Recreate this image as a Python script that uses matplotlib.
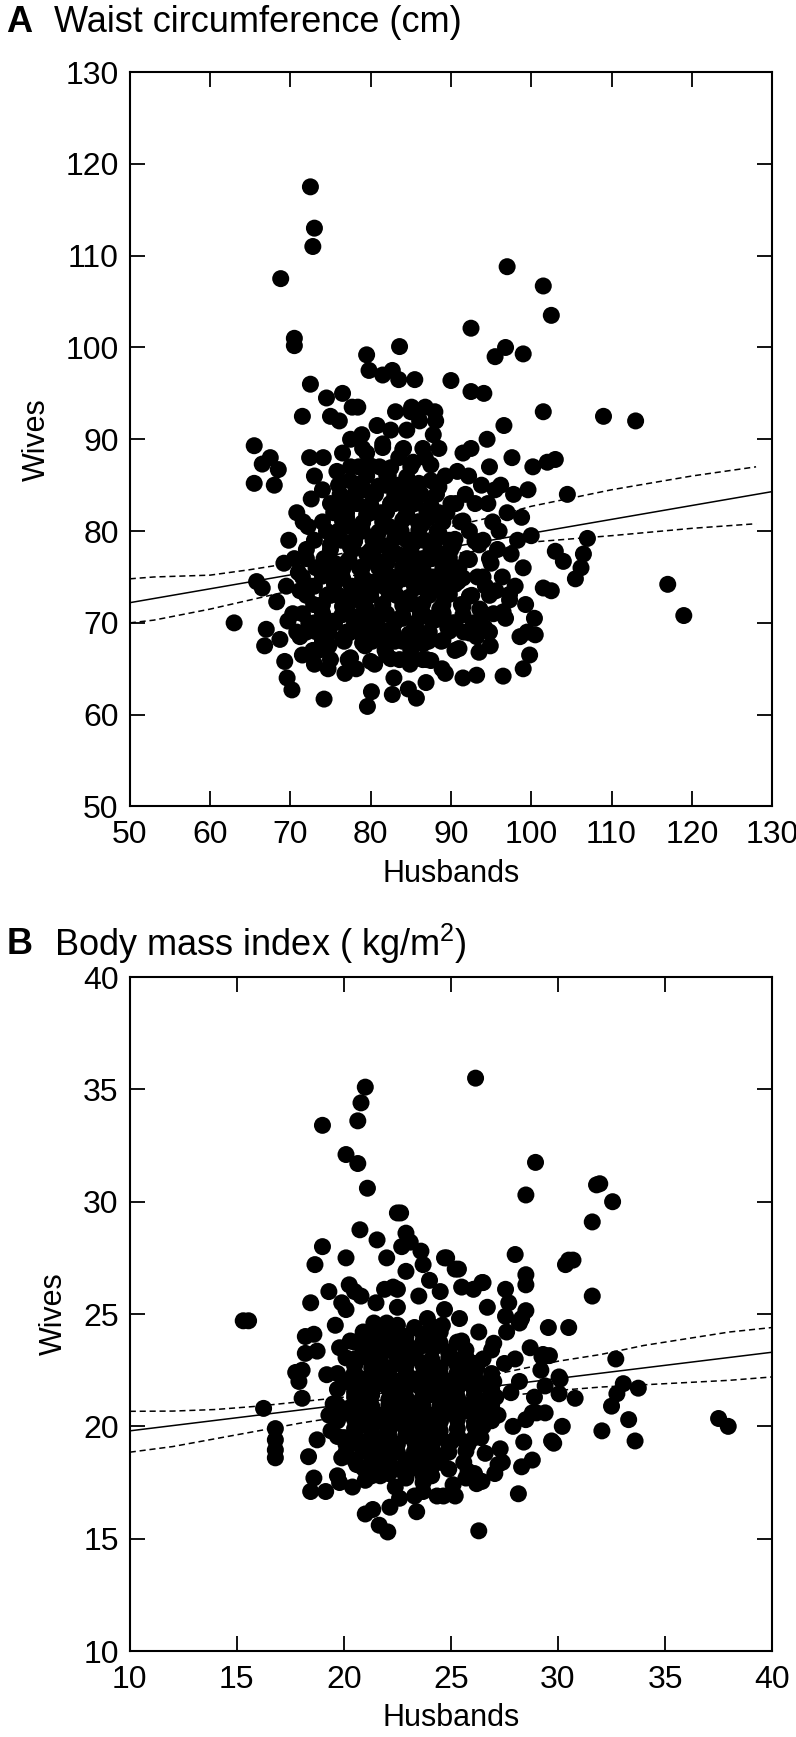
import numpy as np
import matplotlib
matplotlib.use("Agg")
import matplotlib.pyplot as plt

plt.rcParams['font.family'] = ['Liberation Sans', 'DejaVu Sans']
plt.rcParams['mathtext.fontset'] = 'custom'
plt.rcParams['mathtext.rm'] = 'Liberation Sans'

# ---- panel A: waist circumference (cm), husbands vs wives ----
husb_a_out = [72.5, 73, 72.8, 68.8, 70.5, 70.5, 72.5, 71.5, 63, 97, 101.5, 102.5, 92.5, 109, 113, 117, 119,
              96.8, 99, 95.5, 90, 92.5, 101.5, 103, 102, 104.5, 103, 104, 106.5, 107, 105.5, 106.2, 101.5,
              102.5, 99.5, 100.5, 99, 96.5,
              65.5, 65.5, 66.5, 67.5, 68.5, 68, 65.8, 66.5, 67, 66.8, 68.3, 68.7, 69.3, 69.6, 70.2, 74.2,
              79.6, 82.7, 85.7, 89.3, 91.5, 93.2,
              77.7, 79.5, 79.8, 81.5, 83.6, 83.5, 82.7, 85, 86.8, 74.5, 76.5, 88, 85.5]
wife_a_out = [117.5, 113, 111, 107.5, 101, 100.2, 96, 92.5, 70, 108.8, 106.7, 103.5, 102.1, 92.5, 92, 74.2, 70.8,
              100, 99.3, 99, 96.4, 95.2, 93, 87.8, 87.5, 84, 77.8, 76.7, 77.5, 79.2, 74.8, 76, 73.8,
              73.5, 69, 68.7, 65, 64.2,
              89.3, 85.2, 87.3, 88, 86.7, 85, 74.5, 73.8, 69.3, 67.5, 72.3, 68.2, 65.8, 64, 62.7, 61.7,
              60.9, 62.2, 61.8, 64.5, 64, 64.3,
              93.5, 99.2, 97.5, 97, 100.1, 96.5, 97.5, 93, 93.5, 94.5, 95, 93, 96.5]

husb_a_core = [69.2, 69.8, 70.3, 70.8, 69.5, 71.2, 70.5, 71, 69.7, 71.5, 71.2, 70.8, 71.6,
               72, 72.5, 72.3, 72.8, 72.6, 73, 72.4, 73.2, 72.9, 73, 72.2, 73.3,
               74, 74.5, 74.2, 74.6, 74.3, 74.8, 74.1, 75, 74.7, 75.2, 75.4, 75, 75.5, 75.8,
               76, 76.4, 76.2, 76.7, 76.9, 77, 77.3, 76.5, 77.5, 77.2, 76.8, 77.6, 77.8, 77.4, 76.1,
               78, 78.3, 78.6, 78.8, 79, 79.3, 78.5, 79.5, 78.2, 79.7, 79.2, 78.9, 79.8, 78.4, 79.5,
               80, 80.3, 80.6, 80.2, 80.9, 81, 81.3, 81.1, 80.5, 81.5, 80.8, 81.6, 81.8, 80.1, 81.4, 81.9,
               82, 82.3, 82.6, 82.2, 82.8, 83, 83.3, 83.2, 82.5, 83.5, 83.6, 83.8, 82.9, 83.1, 83.7, 82.4,
               84, 84.3, 84.6, 84.2, 84.8, 85, 85.3, 85.2, 84.5, 85.5, 85.6, 85.8, 84.9, 84.1, 85.1, 84.7, 85.9,
               86, 86.3, 86.6, 86.2, 86.8, 87, 87.3, 87.2, 86.5, 87.5, 87.6, 87.8, 86.9, 86.1, 87.4,
               88, 88.3, 88.6, 88.2, 88.8, 89, 89.3, 89.2, 88.5, 89.5, 89.6, 89.8, 88.9, 88.1,
               90, 90.3, 90.6, 90.2, 90.8, 91, 91.3, 91.2, 90.5, 91.5, 91.6, 91.8, 90.9,
               92, 92.3, 92.6, 92.2, 92.8, 93, 93.3, 93.2, 92.5, 93.5, 93.6, 93.8,
               94, 94.3, 94.6, 94.2, 94.8, 95, 95.3, 95.2, 94.5, 95.5, 95.6, 95.8, 94.9, 94.1,
               96, 96.4, 96.8, 96.2, 97, 97.3, 97.5, 97.8, 98, 98.3, 98.6, 97.6, 96.6, 98.8,
               99, 99.3, 99.6, 100, 100.4, 99.8, 100.2,
               75.5, 76.5, 77.5, 78.5, 79.5, 80.5, 81.5, 82.5, 83.5, 84.5, 85.5, 86.5, 87.5, 88.5, 89.5,
               76, 78, 80, 82, 84, 86, 88, 79, 83, 87, 77, 81, 85, 89, 75, 77.8, 80.7, 83.2, 85.7, 88.7,
               74.5, 82, 86, 79.6, 84.6]
wife_a_core = [76.5, 79, 71, 69, 74, 73.5, 77, 75.5, 70.2, 66.5, 68.5, 82, 81,
               78, 74, 70, 67, 83.5, 86, 88, 76, 72, 65.5, 80.5, 69,
               84.5, 80, 77, 73, 70.5, 67.5, 88, 92.5, 65, 75, 82, 78.5, 70, 86.5,
               73, 79, 84, 68, 76.5, 81.5, 71, 88.5, 90, 66, 64.5, 74, 78, 85.5, 92,
               70, 83, 76, 72.5, 80, 67.5, 87, 88.5, 65, 74.5, 84.5, 90.5, 69.5, 93.5, 77.5,
               73, 79, 84, 68, 70.5, 76, 82, 87, 65.5, 89.5, 91.5, 74, 67, 62.5, 78.5, 85,
               71, 80.5, 75, 86, 69, 83, 77.5, 73, 91, 88, 66, 80, 64, 93, 70.5, 78,
               76, 81.5, 72, 85, 68.5, 79, 87.5, 74.5, 91, 83, 70, 77, 65.5, 89, 93.5, 62.8, 81,
               75.5, 84, 79, 71, 88, 73.5, 81.5, 68, 66, 85.5, 77, 90.5, 63.5, 92, 70.5,
               75, 80, 71.5, 84, 68, 77.5, 86, 73, 89, 82, 69.5, 79, 65, 92,
               74, 78.5, 83, 70, 86.5, 76, 72, 81, 67, 88.5, 69, 84, 74.5,
               77, 80, 73, 86, 70, 83, 75, 68.5, 89, 78.5, 71.5, 85,
               79, 74, 83, 69.5, 87, 76.5, 71, 81, 90, 84.5, 73.5, 78, 67.5, 95,
               80, 75, 70.5, 85, 82, 72.5, 77.5, 84, 74, 79, 68.5, 88, 91.5, 81.5,
               76, 72, 84.5, 79.5, 70.5, 66.5, 87,
               76.5, 71, 80.5, 74, 71.5, 77, 72, 83, 75, 79, 72, 77, 75, 82, 75,
               82.5, 79, 82, 76.5, 70.5, 81, 78, 68.5, 68, 66, 69, 69.5, 67, 71, 73, 72.5, 74.5, 79.5, 75.5, 73.8,
               68.5, 66.5, 69, 82.5, 83.5]

# the solid black centre of the cloud (two staggered passes)
husb_a_fill = [74, 76.5, 79, 81.5, 84, 86.5, 89,
               73, 75.5, 78, 80.5, 83, 85.5, 88, 90.5,
               74, 76.5, 79, 81.5, 84, 86.5, 89, 91.5,
               73, 75.5, 78, 80.5, 83, 85.5, 88, 90.5,
               74, 76.5, 79, 81.5, 84, 86.5, 89,
               75, 77.5, 80, 82.5, 85, 87.5, 90,
               76, 78.5, 81, 83.5, 86, 88.5,
               77, 79.5, 82, 84.5, 87,
               78, 80.5, 83, 85.5,
               79.5, 82, 84.5]
wife_a_fill = [68, 68.3, 67.8, 68.2, 68, 67.7, 68.1,
               70, 70.2, 69.8, 70.1, 70, 69.9, 70.3, 70,
               72, 71.8, 72.2, 72, 71.9, 72.1, 72, 71.8,
               74, 74.2, 73.9, 74, 74.1, 73.8, 74, 74.2,
               76, 75.8, 76.1, 76, 76.2, 75.9, 76,
               78, 78.2, 77.9, 78, 78.1, 77.8, 78,
               80, 80.2, 79.9, 80, 80.1, 79.8,
               82, 81.8, 82.1, 82, 82.2,
               84, 84.1, 83.9, 84,
               86, 86.1, 85.9]
husb_a_fill2 = [75, 77.5, 80, 82.5, 85, 87.5,
                73.5, 91, 93.5,
                72, 74.8, 77.3, 79.8, 82.3, 84.8, 87.3, 89.8, 92.3, 94.8,
                71.5, 74, 76.5, 79, 81.5, 84, 86.5, 89, 91.5, 94, 96.5,
                72, 74.8, 77.3, 79.8, 82.3, 84.8, 87.3, 89.8, 92.3, 94.8, 97.3,
                71.5, 74, 76.5, 79, 81.5, 84, 86.5, 89, 91.5, 94,
                72, 74.8, 77.3, 79.8, 82.3, 84.8, 87.3, 89.8, 92.3, 94.8,
                73, 75.5, 78, 80.5, 83, 85.5, 88, 90.5, 93,
                74, 76.5, 79, 81.5, 84, 86.5, 89, 91.5,
                75, 77.5, 80, 82.5, 85, 87.5, 90,
                76, 78.5, 81, 83.5, 86, 88.5,
                77.5, 80, 82.5, 85, 87.5,
                79, 81.5, 84, 86.5]
wife_a_fill2 = [66, 66.2, 65.8, 66.1, 66, 65.9,
                67, 67.2, 66.8,
                69, 69.1, 68.9, 69, 69.2, 68.8, 69, 69.1, 68.9, 69,
                71, 71.1, 70.9, 71, 71.2, 70.8, 71, 71.1, 70.9, 71, 71.2,
                73, 73.1, 72.9, 73, 73.2, 72.8, 73, 73.1, 72.9, 73, 73.1,
                75, 75.1, 74.9, 75, 75.2, 74.8, 75, 75.1, 74.9, 75,
                77, 77.1, 76.9, 77, 77.2, 76.8, 77, 77.1, 76.9, 77,
                79, 79.1, 78.9, 79, 79.2, 78.8, 79, 79.1, 78.9,
                81, 81.1, 80.9, 81, 81.2, 80.8, 81, 81.1,
                83, 83.1, 82.9, 83, 83.2, 82.8, 83,
                85, 85.1, 84.9, 85, 85.2, 84.8,
                87, 87.1, 86.9, 87, 87.2,
                89, 89.1, 88.9, 89]

# regression line and 95% band, panel A
line_a_x = [50, 130]
line_a_y = [72.2, 84.3]
band_a_x = [50, 53, 60, 65, 70, 75, 80, 85, 90, 95, 100, 110, 120, 128]
band_a_hi = [74.8, 75.0, 75.2, 75.8, 76.5, 77.3, 78.2, 79.2, 80.5, 81.5, 82.7, 84.5, 86.0, 87.0]
band_a_lo = [70.0, 70.3, 71.5, 72.5, 73.5, 74.6, 75.6, 76.8, 77.5, 78.0, 78.8, 79.5, 80.3, 80.8]

# ---- panel B: body mass index (kg/m2) ----
husb_b_out = [21.0, 20.8, 20.65, 19.0, 20.1, 20.65, 21.1, 22.65, 22.5, 20.75, 21.55, 22.9, 23.1, 23.6, 23.7,
              22.7, 22.0, 22.9, 19.0, 18.65, 20.1, 24.7, 25.2, 19.3, 18.45, 19.9, 20.25, 20.8, 21.9, 22.5,
              15.3, 15.55, 16.25, 16.8, 16.8, 16.8, 16.8, 18.2, 18.6, 18.75, 18.2, 17.75, 18.05, 17.9, 18.05,
              18.35, 18.75, 18.6, 18.45, 19.15, 19.8, 20.4, 21.0, 21.35, 21.65, 22.05, 22.15, 23.4, 23.7,
              24.35, 25.1,
              26.15, 28.95, 28.5, 31.8, 31.95, 32.55, 31.6, 28.0, 30.5, 30.7, 30.35, 31.6, 28.5, 28.5, 27.55,
              26.45, 26.05, 25.35, 24.8, 28.5, 28.2, 27.55, 29.55, 30.5, 32.7, 29.25, 29.6, 30.05, 30.1,
              33.05, 33.75, 32.75, 32.5, 30.8, 30.05, 33.3, 32.05, 33.6, 37.5, 37.95, 30.2, 29.7, 29.8,
              29.4, 28.8, 28.3, 28.15, 26.3, 26.2, 26.45, 25.2, 24.65, 27.2, 27.05, 25.8]
wife_b_out = [35.1, 34.4, 33.6, 33.4, 32.1, 31.7, 30.6, 29.5, 29.5, 28.75, 28.3, 28.6, 28.2, 27.8, 27.2,
              28.0, 27.5, 26.9, 28.0, 27.2, 27.5, 27.5, 27.0, 26.0, 25.5, 25.5, 26.3, 25.8, 26.1, 26.1,
              24.7, 24.7, 20.8, 19.9, 19.4, 18.95, 18.6, 24.0, 24.1, 23.35, 23.25, 22.4, 22.5, 22.0, 21.25,
              18.65, 19.4, 17.7, 17.1, 17.1, 17.5, 17.3, 16.1, 16.3, 15.6, 15.3, 16.4, 16.2, 17.1,
              16.9, 17.4,
              35.5, 31.75, 30.3, 30.75, 30.8, 30.0, 29.1, 27.65, 27.4, 27.4, 27.2, 25.8, 26.75, 26.3, 26.1,
              26.4, 26.1, 27.0, 27.5, 25.15, 24.6, 24.9, 24.4, 24.4, 23.0, 23.1, 23.15, 22.2, 22.1,
              21.9, 21.7, 21.45, 20.9, 21.25, 21.45, 20.3, 19.8, 19.35, 20.35, 20.0, 20.0, 19.35, 19.25,
              20.6, 20.6, 18.2, 17.0, 15.35, 17.45, 17.55, 16.9, 16.9, 18.3, 17.9, 18.0]

husb_b_core = [19.2, 19.5, 19.8, 19.4, 19.9, 19.6, 19.3, 19.7, 20,
               20.2, 20.5, 20.3, 20.8, 20.6, 20.9, 20.4, 20.7, 20.1, 21, 20.5, 20.9,
               21.2, 21.5, 21.3, 21.8, 21.6, 21.9, 21.4, 21.7, 21.1, 22, 21.5, 21.8, 21.2,
               22.2, 22.5, 22.3, 22.8, 22.6, 22.9, 22.4, 22.7, 22.1, 23, 22.5, 22.9, 22.3, 22.6,
               23.2, 23.5, 23.3, 23.8, 23.6, 23.9, 23.4, 23.7, 23.1, 24, 23.5, 23.8, 23.3, 24,
               24.2, 24.5, 24.3, 24.8, 24.6, 24.9, 24.4, 24.7, 24.1, 25, 24.5, 24.8,
               25.2, 25.5, 25.3, 25.8, 25.6, 25.9, 25.4, 25.7, 25.1, 26, 25.5, 25.8,
               26.2, 26.5, 26.3, 26.8, 26.6, 26.9, 26.4, 26.7, 26.1, 27, 26.5,
               27.2, 27.5, 27.3, 27.8, 27.6, 27.9, 27.4, 28, 27.7, 27.1,
               28.2, 28.5, 28.7, 28.9, 28.4, 29.2, 29, 29.4, 28.3, 29.3, 28.8,
               20.5, 21.5, 22.5, 23.5, 24.5, 25.5, 22, 23, 24, 21, 22.8, 24.2, 25.3, 21.3, 23.7,
               26.3, 20.3, 22, 24.6, 23.2, 21.5, 25, 20, 26.2, 27]
wife_b_core = [22.3, 21, 23.5, 19.8, 18.6, 24.5, 20.5, 17.8, 22,
               20.8, 23, 19.2, 21.7, 18.3, 24.2, 22.2, 20, 25.2, 17.6, 26, 23.6,
               21.3, 19.5, 23.3, 20.4, 22.5, 18.5, 24.6, 17.8, 20, 21.8, 25.5, 23.8, 18.9,
               20.6, 22.8, 19.1, 21.5, 24, 18, 17.3, 20.1, 23.4, 22.2, 25.3, 19.6, 26.2, 16.8,
               21, 23.5, 19.8, 22, 18.4, 24.8, 20.6, 17.5, 23, 21.4, 25.8, 19, 16.9, 26.5,
               22.5, 20.2, 24, 21.2, 18.7, 23.3, 19.5, 25.2, 17.8, 22, 26, 20.6,
               21.5, 23.8, 19.5, 22.5, 18.4, 20.8, 24.8, 17.7, 23, 21.8, 26.2, 19.2,
               22.6, 20, 24.2, 21.3, 18.8, 23.4, 19.5, 25.3, 17.9, 22, 26.4,
               20.5, 22.8, 19, 21.5, 24.2, 20, 18.4, 23, 25.5, 21.3,
               22, 20.3, 23.5, 21.3, 19.3, 22.5, 20.6, 21.8, 24.8, 23.2, 18.5,
               21.5, 22, 21.3, 21.8, 21.6, 21, 20, 20.3, 19.8, 20.9, 23.3, 23.5, 22.8, 22.6, 22.7,
               21, 23.8, 24.6, 24.5, 18.3, 18.2, 19.3, 19.5, 20.2, 23.7]

husb_b_fill = [20.5, 21.3, 22.1, 22.9, 23.7, 24.5,
               20.1, 20.9, 21.7, 22.5, 23.3, 24.1, 24.9, 25.7,
               20.5, 21.3, 22.1, 22.9, 23.7, 24.5, 25.3, 26.1,
               20.1, 20.9, 21.7, 22.5, 23.3, 24.1, 24.9, 25.7, 26.5,
               20.5, 21.3, 22.1, 22.9, 23.7, 24.5, 25.3, 26.1, 26.9,
               20.1, 20.9, 21.7, 22.5, 23.3, 24.1, 24.9, 25.7, 26.5,
               20.5, 21.3, 22.1, 22.9, 23.7, 24.5, 25.3, 26.1,
               20.9, 21.7, 22.5, 23.3, 24.1, 24.9, 25.7,
               21.3, 22.1, 22.9, 23.7, 24.5,
               21.3, 22.1, 22.9, 23.7]
wife_b_fill = [18.5, 18.6, 18.4, 18.5, 18.6, 18.4,
               19.2, 19.3, 19.1, 19.2, 19.3, 19.1, 19.2, 19.3,
               19.9, 20.0, 19.8, 19.9, 20.0, 19.8, 19.9, 20.0,
               20.6, 20.7, 20.5, 20.6, 20.7, 20.5, 20.6, 20.7, 20.5,
               21.3, 21.4, 21.2, 21.3, 21.4, 21.2, 21.3, 21.4, 21.2,
               22.0, 22.1, 21.9, 22.0, 22.1, 21.9, 22.0, 22.1, 21.9,
               22.7, 22.8, 22.6, 22.7, 22.8, 22.6, 22.7, 22.8,
               23.4, 23.5, 23.3, 23.4, 23.5, 23.3, 23.4,
               24.1, 24.2, 24.0, 24.1, 24.2,
               17.8, 17.9, 17.7, 17.8]
husb_b_fill2 = [20.9, 21.7, 22.5, 23.3, 24.1, 24.9,
                20.1, 20.9, 21.7, 22.5, 23.3, 24.1, 24.9, 25.7,
                19.7, 20.5, 21.3, 22.1, 22.9, 23.7, 24.5, 25.3, 26.1,
                19.7, 20.5, 21.3, 22.1, 22.9, 23.7, 24.5, 25.3, 26.1, 26.9,
                19.7, 20.5, 21.3, 22.1, 22.9, 23.7, 24.5, 25.3, 26.1, 26.9,
                19.7, 20.5, 21.3, 22.1, 22.9, 23.7, 24.5, 25.3, 26.1, 26.9,
                19.7, 20.5, 21.3, 22.1, 22.9, 23.7, 24.5, 25.3, 26.1, 26.9,
                20.1, 20.9, 21.7, 22.5, 23.3, 24.1, 24.9, 25.7, 26.5,
                20.5, 21.3, 22.1, 22.9, 23.7, 24.5, 25.3,
                21.7, 22.5, 23.3, 24.1]
wife_b_fill2 = [18.15, 18.2, 18.1, 18.15, 18.2, 18.1,
                18.85, 18.9, 18.8, 18.85, 18.9, 18.8, 18.85, 18.9,
                19.55, 19.6, 19.5, 19.55, 19.6, 19.5, 19.55, 19.6, 19.5,
                20.25, 20.3, 20.2, 20.25, 20.3, 20.2, 20.25, 20.3, 20.2, 20.25,
                20.95, 21.0, 20.9, 20.95, 21.0, 20.9, 20.95, 21.0, 20.9, 20.95,
                21.65, 21.7, 21.6, 21.65, 21.7, 21.6, 21.65, 21.7, 21.6, 21.65,
                22.35, 22.4, 22.3, 22.35, 22.4, 22.3, 22.35, 22.4, 22.3, 22.35,
                23.05, 23.1, 23.0, 23.05, 23.1, 23.0, 23.05, 23.1, 23.0,
                23.75, 23.8, 23.7, 23.75, 23.8, 23.7, 23.75,
                24.45, 24.5, 24.4, 24.45]

# regression line and 95% band, panel B
line_b_x = [10, 40]
line_b_y = [19.8, 23.3]
band_b_x = [10, 12, 14, 16, 18, 20, 22, 24, 26, 28, 30, 32, 34, 36, 38, 40]
band_b_hi = [20.67, 20.68, 20.75, 20.9, 21.1, 21.3, 21.5, 21.8, 22.1, 22.5, 22.9, 23.2, 23.6, 23.9, 24.2, 24.4]
band_b_lo = [18.85, 19.1, 19.45, 19.8, 20.15, 20.45, 20.75, 21.0, 21.2, 21.4, 21.6, 21.75, 21.85, 21.95, 22.05, 22.2]

fig = plt.figure(figsize=(7.96, 17.37), dpi=100)

FS_TICK = 23
FS_LAB = 22
FS_TITLE = 26
DOT = 150


def draw_panel(ax, hx, wy, lx, ly, bx, bhi, blo, xlim, ylim, xt, yt):
    ax.plot(bx, bhi, color='black', lw=1.1, ls=(0, (4, 2.5)), zorder=1)
    ax.plot(bx, blo, color='black', lw=1.1, ls=(0, (4, 2.5)), zorder=1)
    ax.plot(lx, ly, color='black', lw=1.1, zorder=1)
    ax.scatter(hx, wy, s=DOT, color='black', edgecolors='none', zorder=2, clip_on=False)
    ax.set_xlim(*xlim)
    ax.set_ylim(*ylim)
    ax.set_xticks(xt)
    ax.set_yticks(yt)
    ax.tick_params(direction='in', length=11, width=1.3, labelsize=FS_TICK,
                   top=True, right=True)
    ax.tick_params(axis='x', pad=10)
    ax.tick_params(axis='y', pad=8)
    for s in ax.spines.values():
        s.set_linewidth(1.5)
    ax.set_xlabel('Husbands', fontsize=FS_LAB, labelpad=6)
    ax.set_ylabel('Wives', fontsize=FS_LAB, labelpad=10)


ax_a = fig.add_axes([0.163, 0.5357, 0.807, 0.4228])
draw_panel(ax_a, husb_a_out + husb_a_core + husb_a_fill + husb_a_fill2,
           wife_a_out + wife_a_core + wife_a_fill + wife_a_fill2,
           line_a_x, line_a_y, band_a_x, band_a_hi, band_a_lo,
           (50, 130), (50, 130), range(50, 131, 10), range(50, 131, 10))

ax_b = fig.add_axes([0.163, 0.0495, 0.807, 0.388])
draw_panel(ax_b, husb_b_out + husb_b_core + husb_b_fill + husb_b_fill2,
           wife_b_out + wife_b_core + wife_b_fill + wife_b_fill2,
           line_b_x, line_b_y, band_b_x, band_b_hi, band_b_lo,
           (10, 40), (10, 40), range(10, 41, 5), range(10, 41, 5))

fig.text(0.008, 0.987, 'A', fontsize=FS_TITLE, fontweight='bold', va='center')
fig.text(0.068, 0.987, 'Waist circumference (cm)', fontsize=FS_TITLE, va='center')
fig.text(0.008, 0.4565, 'B', fontsize=FS_TITLE, fontweight='bold', va='center')
fig.text(0.068, 0.4565, r'Body mass index ( kg/m$^{2}$)', fontsize=FS_TITLE, va='center')

fig.savefig('out.png', dpi=100)
